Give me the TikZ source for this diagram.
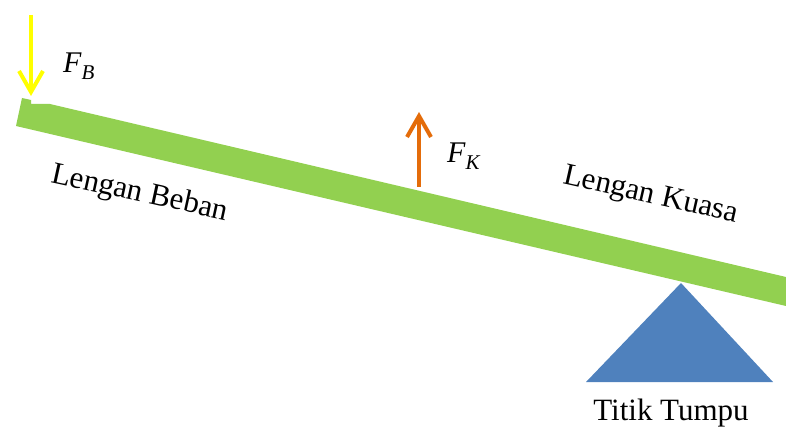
\documentclass[tikz,border=0pt]{standalone}
\usepackage{fontspec}
\setmainfont{Liberation Serif}
\usetikzlibrary{arrows.meta}
\definecolor{barGreen}{HTML}{92D050}
\definecolor{baseBlue}{HTML}{4F81BD}
\definecolor{forceOrange}{HTML}{E46C0A}
\definecolor{forceYellow}{HTML}{FFFF00}
\newcommand{\forcesym}[2]{{\itshape #1}\raisebox{-6.5pt}{\fontsize{21}{24}\selectfont\itshape #2}}
\tikzset{
  force/.style={line width=4pt, -{Straight Barb[length=21pt,width=24pt,line width=4pt]}},
  lbl/.style={inner sep=0pt, font=\fontsize{31}{36}\selectfont},
  sym/.style={inner sep=0pt, font=\fontsize{30}{36}\selectfont},
}
\begin{document}
\begin{tikzpicture}[x=1pt,y=-1pt]
  \useasboundingbox (0,0) rectangle (786,430);
  % lever bar
  \fill[barGreen] (16,126) -- (22,98) -- (31,100) -- (31,104) -- (50,104)
      -- (786,277) -- (786,306) -- cycle;
  % fulcrum
  \fill[baseBlue] (681,283) -- (773,382) -- (586,382) -- cycle;
  \node[lbl, anchor=base] (tumpu) at (671,420) {Titik Tumpu};
  % load force
  \coordinate (fbTail) at (31,15);
  \coordinate (fbTip) at (31,96);
  \draw[force, forceYellow] (fbTail) -- (fbTip);
  \node[sym, anchor=base west] (fb) at (63,73) {\forcesym{F}{B}};
  % effort force
  \coordinate (fkTail) at (419,187);
  \coordinate (fkTip) at (419,112);
  \draw[force, forceOrange] (fkTail) -- (fkTip);
  \node[sym, anchor=base west] (fk) at (447,163) {\forcesym{F}{K}};
  % arm labels
  \node[lbl, anchor=base west, rotate=-12.3] (beban) at (50,182) {Lengan Beban};
  \node[lbl, anchor=base west, rotate=-12.8] (kuasa) at (562,183) {Lengan Kuasa};
\end{tikzpicture}
\end{document}
